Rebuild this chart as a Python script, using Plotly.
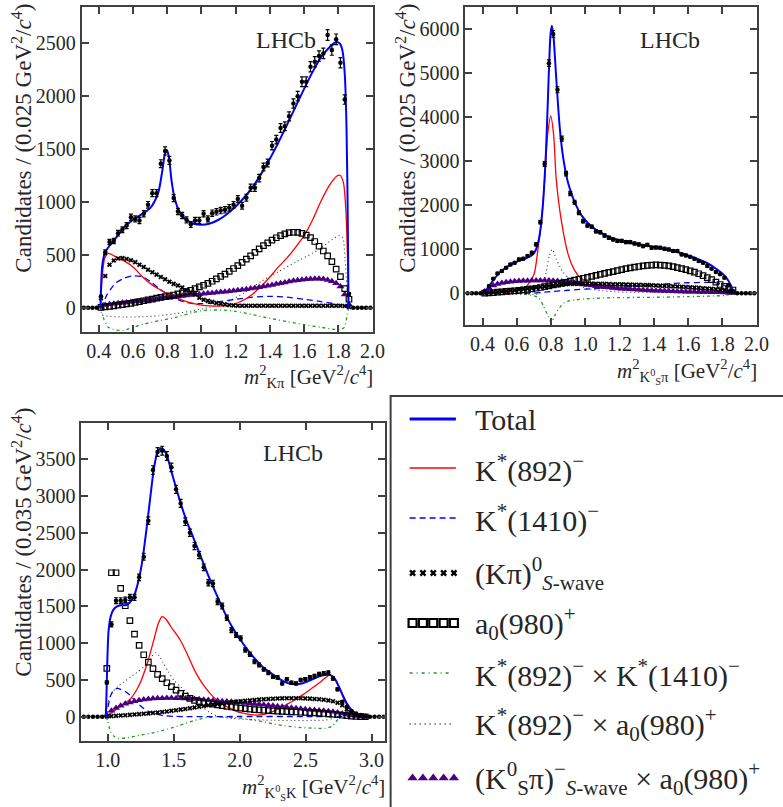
import numpy as np
import plotly.graph_objects as go

W, H = 783, 807
FONT = "Liberation Serif"
TXT = "#262626"
AX = "#404040"

# ---------------- bin centres ----------------
p12_bins = np.round(0.3125 + 0.025 * np.arange(68), 4)
p12_comp_bins = p12_bins[4:63]
p3_bins = np.round(0.8175 + 0.035 * np.arange(66), 4)
p3_comp_bins = p3_bins[5:62]

# ---------------- panel 1 : m2(K pi) ----------------
p1_data = [0, 0, 0, 0,
           107, 523, 620, 630, 703, 735, 775, 854, 838, 823,
           886, 971, 1081, 1081, 1359, 1479, 1390, 1034, 908, 870,
           829, 785, 823, 823, 886, 838, 892, 905, 917, 924,
           943, 971, 1025, 962, 1037, 1132, 1132, 1223, 1327, 1365,
           1529, 1586, 1696, 1712, 1806, 1926, 1996, 2131, 2131, 2273,
           2320, 2374, 2399, 2573, 2431, 2532, 2311, 1964, 129,
           0, 0, 0, 0, 0]
p1_swave = [90, 300, 405, 445, 465, 468, 460, 448, 430, 405,
            385, 358, 335, 312, 290, 268, 245, 225, 210, 190,
            165, 145, 125, 95, 75, 65, 55, 45, 38, 30,
            25, 21, 19, 18, 18, 18, 18, 18, 18, 18,
            18, 18, 18, 18, 18, 18, 18, 18, 18, 18,
            18, 18, 18, 18, 18, 18, 18, 17, 8]
p1_a0 = [3, 8, 13, 18, 24, 30, 36, 42, 50, 58,
         66, 74, 82, 90, 98, 105, 112, 120, 130, 140,
         152, 165, 180, 196, 212, 230, 250, 272, 295, 318,
         343, 370, 398, 428, 458, 490, 522, 555, 585, 612,
         638, 660, 680, 697, 708, 712, 710, 702, 685, 662,
         625, 580, 535, 490, 435, 365, 293, 180, 80]
p1_kpi_a0 = [10, 25, 32, 37, 42, 46, 50, 54, 58, 62,
             66, 71, 76, 81, 86, 90, 95, 100, 105, 110,
             115, 120, 124, 128, 132, 136, 140, 144, 148, 151,
             155, 160, 165, 170, 175, 181, 187, 193, 200, 207,
             215, 223, 231, 239, 247, 254, 260, 265, 269, 272,
             274, 274, 270, 262, 250, 232, 200, 125, 30]
p1_total_x = [0.41, 0.413, 0.42, 0.435, 0.46, 0.5, 0.55, 0.6, 0.65, 0.7, 0.725, 0.75, 0.77, 0.785,
              0.797, 0.81, 0.825, 0.845, 0.87, 0.9, 0.95, 1.0, 1.05, 1.1, 1.15, 1.2, 1.25, 1.3,
              1.35, 1.4, 1.45, 1.5, 1.55, 1.6, 1.65, 1.7, 1.75, 1.785, 1.81, 1.825, 1.838, 1.848,
              1.855, 1.86]
p1_total_y = [0, 200, 400, 515, 580, 660, 760, 830, 880, 940, 1000, 1100, 1280, 1440,
              1490, 1420, 1200, 1020, 910, 845, 795, 782, 795, 830, 885, 955, 1040, 1140,
              1265, 1405, 1560, 1725, 1895, 2065, 2225, 2365, 2460, 2505, 2490, 2420, 2200, 1700,
              900, 0]
p1_k892_x = [0.41, 0.42, 0.435, 0.455, 0.5, 0.55, 0.6, 0.65, 0.7, 0.75, 0.8, 0.85, 0.9, 0.95, 1.0,
             1.05, 1.1, 1.15, 1.2, 1.25, 1.3, 1.35, 1.4, 1.45, 1.5, 1.55, 1.6, 1.65, 1.7, 1.75,
             1.79, 1.81, 1.83, 1.845, 1.855, 1.86]
p1_k892_y = [0, 300, 470, 512, 480, 440, 385, 300, 230, 177, 135, 95, 65, 41, 25,
             18, 15, 20, 40, 75, 130, 205, 290, 385, 470, 570, 680, 830, 1010, 1160,
             1240, 1250, 1180, 900, 400, 0]
p1_k1410_x = [0.41, 0.43, 0.45, 0.5, 0.55, 0.6, 0.65, 0.7, 0.75, 0.8, 0.85, 0.9, 0.95, 1.0, 1.05,
              1.1, 1.2, 1.3, 1.4, 1.5, 1.6, 1.7, 1.8, 1.84, 1.86]
p1_k1410_y = [0, 60, 130, 235, 280, 300, 295, 250, 185, 130, 85, 55, 40, 38, 42,
              55, 80, 100, 108, 100, 80, 58, 30, 15, 0]
p1_int1_x = [0.41, 0.42, 0.43, 0.455, 0.485, 0.54, 0.6, 0.66, 0.75, 0.85, 0.95, 1.0, 1.05, 1.12,
             1.2, 1.3, 1.4, 1.5, 1.6, 1.7, 1.78, 1.81, 1.835, 1.853, 1.86]
p1_int1_y = [0, -60, -110, -185, -205, -215, -185, -155, -123, -90, -45, -28, -22, -22,
             -35, -65, -100, -130, -160, -185, -205, -208, -185, -60, 0]
p1_int2_x = [0.41, 0.42, 0.45, 0.55, 0.65, 0.75, 0.85, 0.95, 1.05, 1.15, 1.25, 1.35, 1.45, 1.55,
             1.65, 1.72, 1.78, 1.805, 1.825, 1.84, 1.85, 1.86]
p1_int2_y = [0, -70, -80, -88, -85, -76, -55, -28, 5, 55, 140, 250, 340, 430,
             515, 590, 660, 680, 665, 450, 200, 0]

# ---------------- panel 2 : m2(KS pi) ----------------
p2_data = [0, 0, 0, 0,
           40, 166, 333, 453, 506, 582, 657, 696, 771, 787,
           846, 923, 1111, 1617, 2941, 5231, 5896, 4626, 3515, 2721,
           2268, 2070, 1830, 1640, 1542, 1512, 1413, 1390, 1315, 1263,
           1224, 1190, 1190, 1165, 1165, 1133, 1111, 1073, 1100, 1035,
           1040, 1035, 1013, 998, 960, 960, 884, 862, 831, 786,
           733, 695, 620, 559, 484, 431, 355, 181, 53,
           0, 0, 0, 0, 0]
p2_swave = [5, 15, 25, 35, 45, 55, 65, 75, 85, 95,
            105, 117, 130, 143, 156, 168, 180, 190, 198, 205,
            210, 214, 217, 219, 220, 220, 219, 217, 214, 211,
            208, 205, 203, 200, 198, 196, 193, 190, 186, 182,
            178, 174, 169, 164, 159, 154, 148, 142, 136, 130,
            124, 117, 110, 102, 93, 82, 68, 50, 25]
p2_a0 = [3, 10, 18, 26, 34, 42, 50, 58, 66, 76,
         88, 100, 115, 132, 150, 170, 190, 210, 230, 252,
         275, 298, 320, 342, 364, 386, 408, 430, 452, 474,
         495, 515, 538, 560, 578, 595, 610, 625, 635, 642,
         645, 642, 635, 622, 605, 585, 562, 537, 510, 480,
         445, 400, 355, 310, 255, 200, 160, 115, 75]
p2_kpi_a0 = [40, 120, 175, 210, 235, 250, 262, 272, 280, 285,
             288, 290, 291, 292, 292, 291, 288, 280, 270, 258,
             245, 232, 218, 202, 188, 175, 162, 150, 140, 130,
             120, 112, 104, 97, 91, 85, 79, 74, 69, 65,
             61, 57, 53, 50, 47, 44, 41, 38, 36, 34,
             32, 30, 28, 26, 24, 22, 19, 15, 8]
p2_total_x = [0.41, 0.43, 0.45, 0.5, 0.55, 0.6, 0.65, 0.69, 0.71, 0.73, 0.75, 0.77, 0.785, 0.797,
              0.805, 0.815, 0.83, 0.85, 0.87, 0.9, 0.94, 0.98, 1.03, 1.08, 1.14, 1.2, 1.26, 1.32,
              1.38, 1.44, 1.5, 1.56, 1.62, 1.68, 1.72, 1.76, 1.8, 1.83, 1.85, 1.86, 1.87]
p2_total_y = [0, 80, 230, 470, 620, 720, 790, 870, 980, 1250, 1900, 3200, 4800, 5900,
              6080, 5800, 4900, 3800, 3100, 2500, 2050, 1760, 1540, 1400, 1280, 1200, 1150, 1110,
              1070, 1030, 980, 910, 830, 740, 670, 570, 450, 320, 180, 80, 0]
p2_k892_x = [0.41, 0.5, 0.6, 0.65, 0.7, 0.725, 0.745, 0.763, 0.78, 0.798, 0.815, 0.83, 0.86, 0.9,
             0.935, 0.97, 1.03, 1.1, 1.2, 1.3, 1.4, 1.5, 1.6, 1.7, 1.8, 1.86]
p2_k892_y = [0, 15, 50, 130, 430, 1050, 1700, 2600, 3600, 4030, 3600, 2600, 1650, 880,
             540, 360, 245, 180, 130, 100, 80, 60, 45, 30, 18, 0]
p2_k1410_x = [0.41, 0.5, 0.6, 0.7, 0.8, 0.9, 1.0, 1.1, 1.2, 1.3, 1.4, 1.5, 1.6, 1.7, 1.76, 1.8,
              1.83, 1.86]
p2_k1410_y = [0, -5, 0, 5, 40, 70, 95, 115, 135, 160, 190, 220, 240, 248, 245, 200,
              130, 0]
p2_int1_x = [0.41, 0.5, 0.6, 0.65, 0.7, 0.73, 0.755, 0.783, 0.802, 0.82, 0.85, 0.875, 0.9, 0.95,
             1.0, 1.1, 1.2, 1.4, 1.6, 1.75, 1.82, 1.86]
p2_int1_y = [0, -5, -15, -25, -55, -110, -290, -515, -665, -515, -325, -220, -175, -145,
             -130, -105, -98, -90, -75, -60, -45, 0]
p2_int2_x = [0.41, 0.5, 0.6, 0.7, 0.73, 0.75, 0.77, 0.79, 0.807, 0.83, 0.85, 0.87, 0.9, 0.95,
             1.0, 1.1, 1.2, 1.4, 1.6, 1.86]
p2_int2_y = [0, -10, -20, -25, -10, 100, 450, 850, 1000, 780, 620, 480, 360, 240,
             120, 60, 30, 20, 10, 0]

# ---------------- panel 3 : m2(KS K) ----------------
p3_data = [0, 0, 0, 0, 0,
           467, 1256, 1578, 1578, 1587, 1623, 1623, 1895, 2176, 2666,
           3355, 3600, 3618, 3545, 3391, 3092, 2901, 2652, 2502, 2321,
           2198, 2031, 1822, 1813, 1564, 1505, 1346, 1179, 1111, 1066,
           907, 848, 748, 703, 644, 598, 544, 535, 453, 508,
           462, 453, 499, 508, 535, 553, 580, 589, 598, 521,
           372, 204, 136, 77, 45, 23, 8,
           0, 0, 0, 0]
p3_swave = [3, 8, 12, 16, 20, 25, 30, 35, 40, 45,
            52, 58, 65, 72, 80, 88, 97, 106, 115, 125,
            135, 145, 155, 165, 173, 181, 189, 196, 203, 210,
            216, 222, 228, 233, 238, 242, 245, 248, 250, 251,
            252, 252, 251, 249, 246, 242, 237, 230, 222, 210,
            190, 155, 100, 55, 28, 12, 4]
p3_a0 = [657, 1958, 1958, 1745, 1509, 1306, 1124, 970, 843, 743,
         653, 576, 517, 462, 408, 363, 317, 281, 249, 222,
         205, 190, 180, 170, 160, 150, 140, 132, 124, 116,
         109, 103, 97, 92, 88, 84, 80, 77, 74, 70,
         67, 64, 61, 58, 55, 52, 48, 44, 40, 34,
         27, 20, 14, 9, 5, 2, 0]
p3_kpi_a0 = [20, 80, 120, 150, 175, 195, 212, 225, 235, 242,
             247, 250, 252, 253, 253, 252, 250, 248, 245, 241,
             237, 232, 227, 222, 217, 212, 207, 202, 197, 192,
             186, 180, 174, 168, 162, 156, 149, 142, 135, 128,
             121, 114, 108, 102, 96, 90, 85, 80, 74, 66,
             56, 45, 33, 20, 10, 4, 1]
p3_total_x = [0.985, 0.99, 0.997, 1.005, 1.02, 1.04, 1.07, 1.1, 1.14, 1.17, 1.2, 1.23, 1.26, 1.29,
              1.32, 1.35, 1.375, 1.4, 1.42, 1.45, 1.48, 1.52, 1.56, 1.6, 1.65, 1.7, 1.76, 1.82,
              1.88, 1.94, 2.0, 2.06, 2.12, 2.18, 2.24, 2.3, 2.36, 2.42, 2.48, 2.54, 2.6, 2.65,
              2.69, 2.72, 2.75, 2.78, 2.81, 2.84, 2.87, 2.91, 2.95, 2.98]
p3_total_y = [0, 300, 800, 1150, 1350, 1450, 1500, 1515, 1520, 1560, 1650, 1830, 2100, 2500,
              2950, 3380, 3590, 3650, 3640, 3540, 3350, 3100, 2860, 2650, 2430, 2200, 1930, 1680,
              1440, 1230, 1060, 910, 780, 670, 590, 515, 460, 440, 455, 500, 545, 570,
              565, 520, 420, 300, 190, 110, 60, 25, 8, 0]
p3_k892_x = [0.985, 1.0, 1.05, 1.1, 1.175, 1.22, 1.25, 1.3, 1.35, 1.38, 1.41, 1.44, 1.48, 1.55,
             1.6, 1.67, 1.73, 1.8, 1.86, 1.92, 1.98, 2.05, 2.1, 2.15, 2.22, 2.3, 2.35, 2.42,
             2.48, 2.55, 2.6, 2.65, 2.68, 2.71, 2.74, 2.77, 2.8, 2.84, 2.88, 2.95, 2.98]
p3_k892_y = [0, 20, 80, 150, 250, 370, 480, 730, 1050, 1250, 1360, 1330, 1220, 1040,
             860, 590, 420, 270, 180, 120, 70, 40, 25, 25, 50, 110, 160, 230,
             300, 390, 455, 530, 565, 540, 450, 330, 200, 90, 30, 5, 0]
p3_k1410_x = [0.985, 1.0, 1.02, 1.04, 1.07, 1.1, 1.135, 1.17, 1.2, 1.24, 1.275, 1.32, 1.36, 1.42,
              1.5, 1.6, 2.0, 2.5, 2.98]
p3_k1410_y = [0, 120, 280, 350, 385, 370, 340, 290, 230, 160, 110, 65, 40, 15,
              5, 2, 3, 3, 0]
p3_int1_x = [0.985, 1.0, 1.02, 1.05, 1.08, 1.15, 1.25, 1.35, 1.45, 1.55, 1.65, 1.75, 1.85, 1.95,
             2.05, 2.15, 2.25, 2.35, 2.45, 2.55, 2.65, 2.7, 2.73, 2.76]
p3_int1_y = [0, -60, -200, -270, -295, -285, -250, -215, -170, -115, -55, -12, 0, -10,
             -30, -60, -95, -125, -145, -155, -158, -130, -70, 0]
p3_int2_x = [0.985, 1.0, 1.03, 1.075, 1.12, 1.175, 1.22, 1.275, 1.32, 1.36, 1.39, 1.42, 1.46, 1.5,
             1.55, 1.6, 1.66, 1.72, 1.78, 1.85, 1.95, 2.1, 2.25, 2.4, 2.55, 2.65, 2.7, 2.73]
p3_int2_y = [0, 180, 320, 410, 470, 545, 600, 680, 780, 870, 830, 730, 610, 500,
             410, 330, 230, 130, 50, 0, -25, -40, -48, -52, -50, -45, -25, 0]

# ---------------- legend text ----------------
legend_labels = [
    "Total",
    "K<sup>*</sup>(892)<sup>−</sup>",
    "K<sup>*</sup>(1410)<sup>−</sup>",
    "(Kπ)<sup>0</sup><sub><i>S</i>-wave</sub>",
    "a<sub>0</sub>(980)<sup>+</sup>",
    "K<sup>*</sup>(892)<sup>−</sup> × K<sup>*</sup>(1410)<sup>−</sup>",
    "K<sup>*</sup>(892)<sup>−</sup> × a<sub>0</sub>(980)<sup>+</sup>",
    "(K<sup>0</sup><sub>S</sub>π)<sup>−</sup><sub><i>S</i>-wave</sub> × a<sub>0</sub>(980)<sup>+</sup>",
]

# ---------------- styles ----------------
BLUE = "#0000ff"
RED = "#ff0000"
GREEN = "#1f9a1f"
PURPLE = "#4b0082"

fig = go.Figure()


def add_panel(xa, ya, bins, comp_bins, data, swave, a0, kpia0,
              tot, k892, k1410, int1, int2):
    common = dict(xaxis=xa, yaxis=ya, showlegend=False, hoverinfo="skip")
    sm = 0.7
    fig.add_trace(go.Scatter(x=int1[0], y=int1[1], mode="lines",
                             line=dict(color=GREEN, width=1.3, dash="3px,3px,1px,3px",
                                       shape="spline", smoothing=sm), **common))
    fig.add_trace(go.Scatter(x=int2[0], y=int2[1], mode="lines",
                             line=dict(color="#333333", width=1.1, dash="1px,3px",
                                       shape="spline", smoothing=sm), **common))
    fig.add_trace(go.Scatter(x=k1410[0], y=k1410[1], mode="lines",
                             line=dict(color=BLUE, width=1.3, dash="6px,4px",
                                       shape="spline", smoothing=sm), **common))
    fig.add_trace(go.Scatter(x=k892[0], y=k892[1], mode="lines",
                             line=dict(color=RED, width=1.3, shape="spline", smoothing=sm), **common))
    fig.add_trace(go.Scatter(x=comp_bins, y=kpia0, mode="markers",
                             marker=dict(symbol="triangle-up", size=7, color=PURPLE), **common))
    fig.add_trace(go.Scatter(x=comp_bins, y=a0, mode="markers",
                             marker=dict(symbol="square-open", size=5.5, color="black",
                                         line=dict(width=1.2, color="black")), **common))
    fig.add_trace(go.Scatter(x=comp_bins, y=swave, mode="markers",
                             marker=dict(symbol="x", size=4.5, color="black",
                                         line=dict(width=0)), **common))
    fig.add_trace(go.Scatter(x=tot[0], y=tot[1], mode="lines",
                             line=dict(color=BLUE, width=2, shape="spline", smoothing=sm), **common))
    d = np.array(data, dtype=float)
    fig.add_trace(go.Scatter(x=bins, y=d, mode="markers",
                             marker=dict(symbol="circle", size=4.5, color="black"),
                             error_y=dict(type="data", array=np.sqrt(d), color="black",
                                          thickness=1.2, width=2),
                             **common))


add_panel("x", "y", p12_bins, p12_comp_bins, p1_data, p1_swave, p1_a0, p1_kpi_a0,
          (p1_total_x, p1_total_y), (p1_k892_x, p1_k892_y), (p1_k1410_x, p1_k1410_y),
          (p1_int1_x, p1_int1_y), (p1_int2_x, p1_int2_y))
add_panel("x2", "y2", p12_bins, p12_comp_bins, p2_data, p2_swave, p2_a0, p2_kpi_a0,
          (p2_total_x, p2_total_y), (p2_k892_x, p2_k892_y), (p2_k1410_x, p2_k1410_y),
          (p2_int1_x, p2_int1_y), (p2_int2_x, p2_int2_y))
add_panel("x3", "y3", p3_bins, p3_comp_bins, p3_data, p3_swave, p3_a0, p3_kpi_a0,
          (p3_total_x, p3_total_y), (p3_k892_x, p3_k892_y), (p3_k1410_x, p3_k1410_y),
          (p3_int1_x, p3_int1_y), (p3_int2_x, p3_int2_y))

# ---------------- legend samples (helper axis over the legend box only) ----------------
LX0, LY0 = 398, 398   # top-left pixel of legend helper area
leg_rows = [419, 468, 518, 573, 623, 673, 724, 778]
lx0, lx1 = 416, 463
lcommon = dict(xaxis="x4", yaxis="y4", showlegend=False, hoverinfo="skip")
fig.add_trace(go.Scatter(x=[lx0, lx1], y=[leg_rows[0]] * 2, mode="lines",
                         line=dict(color=BLUE, width=3), **lcommon))
fig.add_trace(go.Scatter(x=[lx0, lx1], y=[leg_rows[1]] * 2, mode="lines",
                         line=dict(color=RED, width=1.6), **lcommon))
fig.add_trace(go.Scatter(x=[lx0, lx1], y=[leg_rows[2]] * 2, mode="lines",
                         line=dict(color=BLUE, width=1.6, dash="6px,4px"), **lcommon))
mk_x = [419, 429.5, 440, 450.5, 461]
fig.add_trace(go.Scatter(x=mk_x, y=[leg_rows[3]] * 5, mode="markers",
                         marker=dict(symbol="x", size=6, color="black", line=dict(width=0)),
                         **lcommon))
fig.add_trace(go.Scatter(x=mk_x, y=[leg_rows[4]] * 5, mode="markers",
                         marker=dict(symbol="square-open", size=8, color="black",
                                     line=dict(width=2.2, color="black")), **lcommon))
fig.add_trace(go.Scatter(x=[lx0, lx1 - 4], y=[leg_rows[5]] * 2, mode="lines",
                         line=dict(color=GREEN, width=1.6, dash="3px,4px,1px,4px"), **lcommon))
fig.add_trace(go.Scatter(x=[lx0, lx1 - 4], y=[leg_rows[6]] * 2, mode="lines",
                         line=dict(color="#222222", width=1.4, dash="1px,4px"), **lcommon))
fig.add_trace(go.Scatter(x=mk_x, y=[leg_rows[7]] * 5, mode="markers",
                         marker=dict(symbol="triangle-up", size=9, color=PURPLE), **lcommon))

# ---------------- axes ----------------
def axis_style(**kw):
    d = dict(showline=True, mirror="ticks", linecolor=AX, linewidth=2,
             ticks="inside", ticklen=7, tickwidth=1.6, tickcolor=AX,
             showgrid=False, zeroline=False,
             tickfont=dict(family=FONT, size=20, color=TXT))
    d.update(kw)
    return d


def px_x(p):
    return p / W


def px_y(p):
    return 1 - p / H


layout = dict(
    width=W, height=H, margin=dict(l=0, r=0, t=0, b=0),
    paper_bgcolor="white", plot_bgcolor="white",
    font=dict(family=FONT, color=TXT),
    xaxis=axis_style(domain=[px_x(83), px_x(378.3)], range=[0.3, 2.0], dtick=0.2,
                     tick0=0.4, tickformat=".1f", anchor="y"),
    yaxis=axis_style(domain=[px_y(331.7), px_y(7.3)], range=[-226, 2834], dtick=500,
                     anchor="x"),
    xaxis2=axis_style(domain=[px_x(472.7), px_x(768.3)], range=[0.3, 2.0], dtick=0.2,
                      tick0=0.4, tickformat=".1f", anchor="y2"),
    yaxis2=axis_style(domain=[px_y(325), px_y(7.3)], range=[-720, 6500], dtick=1000,
                      anchor="x2"),
    xaxis3=axis_style(domain=[px_x(82.7), px_x(390.7)], range=[0.8, 3.1], dtick=0.5,
                      tick0=1.0, tickformat=".1f", anchor="y3"),
    yaxis3=axis_style(domain=[px_y(740.7), px_y(423.3)], range=[-326, 3990], dtick=500,
                      anchor="x3"),
    xaxis4=dict(domain=[px_x(LX0), 1.0], range=[LX0, W], visible=False, anchor="y4",
                fixedrange=True),
    yaxis4=dict(domain=[0.0, px_y(LY0)], range=[H, LY0], visible=False, anchor="x4",
                fixedrange=True),
)

ann = []
# LHCb labels
for (cx, cy) in [(290, 40), (680, 40), (298, 453)]:
    ann.append(dict(text="LHCb", x=px_x(cx), y=px_y(cy), xref="paper", yref="paper",
                    showarrow=False, xanchor="center", yanchor="middle",
                    font=dict(family=FONT, size=24, color=TXT)))
# y titles
for (cx, cy, t) in [(22, 138, "Candidates / (0.025 GeV<sup>2</sup>/<i>c</i><sup>4</sup>)"),
                    (412, 138, "Candidates / (0.025 GeV<sup>2</sup>/<i>c</i><sup>4</sup>)"),
                    (22, 542, "Candidates / (0.035 GeV<sup>2</sup>/<i>c</i><sup>4</sup>)")]:
    ann.append(dict(text=t, x=px_x(cx), y=px_y(cy), xref="paper", yref="paper",
                    showarrow=False, xanchor="center", yanchor="middle", textangle=-90,
                    font=dict(family=FONT, size=23, color=TXT)))
# x titles
for (rx, cy, t) in [(381, 376, "<i>m</i><sup>2</sup><sub>Kπ</sub> [GeV<sup>2</sup>/<i>c</i><sup>4</sup>]"),
                    (771, 371, "<i>m</i><sup>2</sup><sub>K<sup>0</sup><sub>S</sub>π</sub> [GeV<sup>2</sup>/<i>c</i><sup>4</sup>]"),
                    (393, 787, "<i>m</i><sup>2</sup><sub>K<sup>0</sup><sub>S</sub>K</sub> [GeV<sup>2</sup>/<i>c</i><sup>4</sup>]")]:
    ann.append(dict(text=t, x=px_x(rx), y=px_y(cy), xref="paper", yref="paper",
                    showarrow=False, xanchor="right", yanchor="middle",
                    font=dict(family=FONT, size=21, color=TXT)))
# legend text
for lab, ry in zip(legend_labels, leg_rows):
    ann.append(dict(text=lab, x=px_x(480), y=px_y(ry), xref="paper", yref="paper",
                    showarrow=False, xanchor="left", yanchor="middle",
                    font=dict(family=FONT, size=30, color=TXT)))

layout["annotations"] = ann
layout["shapes"] = [dict(type="rect", xref="paper", yref="paper",
                         x0=px_x(396.7), x1=1.02, y0=-0.02, y1=px_y(396),
                         line=dict(color=AX, width=2), fillcolor="rgba(0,0,0,0)")]

fig.update_layout(**layout)
fig.write_html("out.html")
